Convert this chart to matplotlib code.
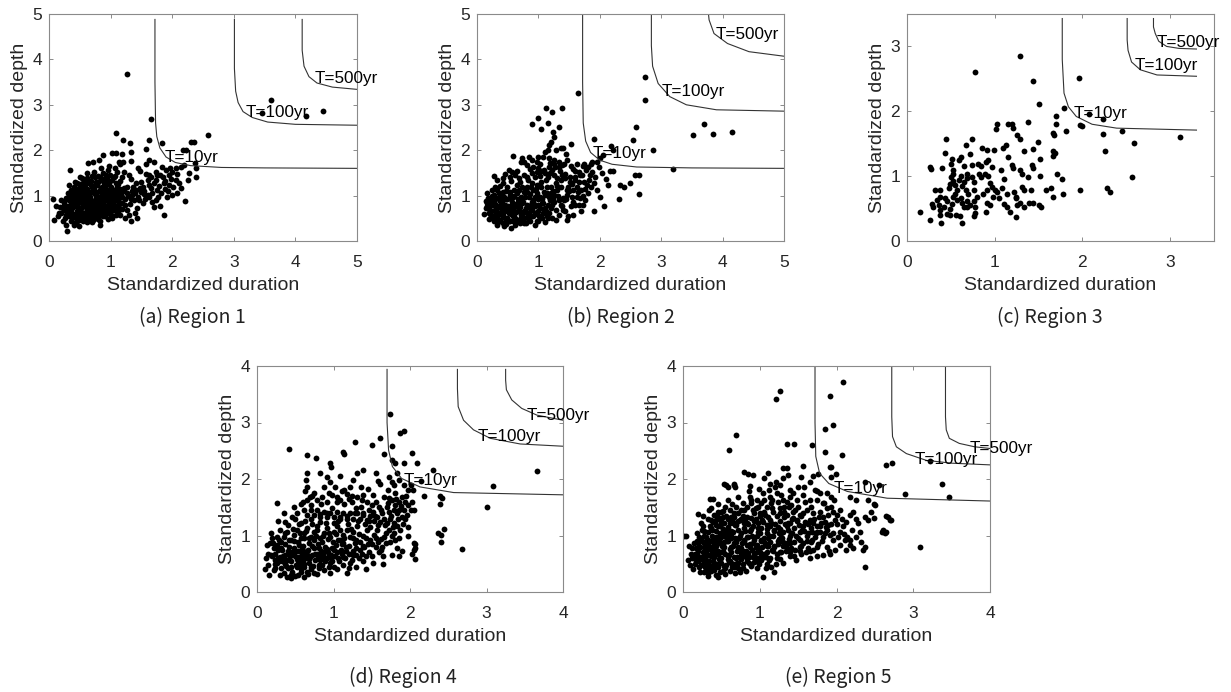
import numpy as np
import matplotlib
matplotlib.use("Agg")
import matplotlib.pyplot as plt

# ---------------- data ----------------
r1_pts = np.array([
    (1.27, 3.68), (1.65, 2.69), (3.61, 3.10), (4.45, 2.86), (4.17, 2.75), (3.46, 2.83),
    (2.58, 2.34), (1.08, 2.37), (1.83, 2.16), (1.62, 2.22), (1.20, 2.23), (1.32, 2.16),
    (2.30, 2.19), (2.35, 2.19), (2.17, 2.00),
    (1.58, 2.02), (1.33, 1.97), (1.03, 1.93), (1.08, 1.93), (0.87, 1.89), (1.18, 1.92),
    (2.22, 2.00), (2.37, 1.71), (1.62, 1.78), (1.70, 1.73), (1.57, 1.70), (0.71, 1.75),
    (0.64, 1.71), (0.81, 1.78), (1.14, 1.75), (1.16, 1.70), (1.20, 1.75), (1.33, 1.76),
    (1.45, 1.60), (1.47, 1.55), (1.84, 1.64), (1.90, 1.56), (1.96, 1.60), (2.06, 1.60),
    (2.14, 1.64), (2.19, 1.67), (1.73, 1.53), (1.81, 1.45), (1.62, 1.45), (2.00, 1.53),
    (2.08, 1.48), (2.38, 1.60), (2.39, 1.42), (2.26, 1.34), (2.11, 1.28), (1.98, 1.36),
    (1.95, 1.23), (1.87, 1.28), (1.89, 1.14), (1.73, 1.34), (1.79, 1.21), (1.76, 1.12),
    (1.60, 1.34), (1.62, 1.23), (1.65, 1.16), (1.52, 1.20), (1.49, 1.09), (1.54, 1.04),
    (1.41, 1.27), (1.42, 1.12), (1.30, 1.45), (1.33, 1.36), (1.22, 1.53), (1.18, 1.42),
    (1.15, 1.33), (1.07, 1.60), (1.11, 1.53), (1.07, 1.43), (0.97, 1.65), (0.96, 1.56),
    (0.92, 1.45), (0.84, 1.60), (0.87, 1.49), (0.80, 1.43), (0.73, 1.53), (0.69, 1.43),
    (0.64, 1.34), (0.61, 1.49), (0.54, 1.38), (0.34, 1.56), (0.46, 1.27), (0.51, 1.21),
    (0.41, 1.20), (0.32, 1.23), (0.35, 1.12), (0.60, 1.27), (0.68, 1.23), (0.76, 1.31),
    (0.84, 1.34), (0.89, 1.27), (0.95, 1.31), (1.03, 1.34), (1.08, 1.27), (1.22, 1.16),
    (1.26, 1.05), (1.35, 1.01), (1.38, 0.90), (1.46, 0.90), (1.52, 0.83), (1.62, 0.96),
    (1.68, 0.87), (1.73, 0.90), (1.70, 0.74), (1.81, 0.76), (1.86, 0.57), (1.92, 0.98),
    (2.00, 1.01), (2.08, 1.05), (2.14, 1.16), (2.21, 0.89), (1.43, 0.72), (1.43, 0.50),
    (1.26, 0.68), (1.30, 0.57), (1.19, 0.83), (1.14, 0.72), (1.06, 0.68), (1.00, 0.57),
    (0.95, 0.61), (0.87, 0.65), (0.81, 0.54), (0.70, 0.57), (0.65, 0.48), (0.54, 0.54),
    (0.49, 0.46), (0.41, 0.57), (0.32, 0.54), (0.24, 0.68), (0.19, 0.61), (0.11, 0.76),
    (0.08, 0.46), (0.30, 0.21), (0.41, 0.35), (0.49, 0.32), (0.22, 0.43), (0.27, 0.35),
    (1.24, 0.50), (1.33, 0.43), (0.07, 0.92), (0.20, 0.90), (0.16, 0.62),
    (0.32, 0.90), (0.38, 0.98), (0.43, 0.87), (0.49, 0.94), (0.54, 0.84), (0.60, 0.90),
    (0.65, 0.98), (0.70, 0.87), (0.76, 0.94), (0.81, 0.84), (0.87, 0.90), (0.92, 0.98),
    (0.97, 0.87), (1.03, 0.94), (1.08, 1.05), (1.14, 0.94),
    (0.38, 1.08), (0.45, 1.15), (0.52, 1.05), (0.58, 1.12), (0.63, 1.02), (0.70, 1.10),
    (0.75, 1.03), (0.82, 1.13), (0.88, 1.05), (0.95, 1.12), (1.02, 1.03), (1.10, 1.10),
    (1.17, 1.02), (0.25, 0.80), (0.33, 0.73), (0.40, 0.78), (0.47, 0.72), (0.55, 0.76),
    (0.62, 0.70), (0.68, 0.78), (0.74, 0.72), (0.80, 0.77), (0.86, 0.71), (0.93, 0.78),
    (1.00, 0.74), (1.06, 0.80), (0.28, 0.58), (0.36, 0.63), (0.44, 0.60), (0.52, 0.64),
    (0.58, 0.57), (0.66, 0.62), (0.73, 0.58), (0.79, 0.64), (0.85, 0.59), (0.91, 0.55),
    (0.98, 0.63), (0.35, 0.45), (0.43, 0.40), (0.55, 0.45), (0.62, 0.42), (0.72, 0.47),
    (0.83, 0.44), (0.96, 0.48), (0.43, 1.30), (0.50, 1.25), (0.57, 1.32), (0.65, 1.28),
    (0.72, 1.22), (0.80, 1.30), (0.86, 1.20), (0.93, 1.24), (1.00, 1.20), (1.12, 1.25),
    (0.29, 0.66), (0.36, 0.84), (0.46, 0.98), (0.57, 0.95), (0.67, 0.83), (0.78, 1.00),
    (0.90, 0.80), (1.04, 0.86), (1.12, 0.63), (0.52, 0.72), (0.62, 0.58), (0.40, 0.52),
    (0.22, 0.72), (0.27, 0.95), (0.31, 1.05), (0.34, 0.68), (0.37, 0.50), (0.39, 0.88),
    (0.42, 1.02), (0.45, 0.66), (0.47, 0.83), (0.50, 1.10), (0.53, 0.93), (0.55, 0.62),
    (0.57, 0.80), (0.59, 1.18), (0.61, 0.95), (0.63, 0.52), (0.64, 0.75), (0.66, 1.05),
    (0.68, 0.90), (0.69, 0.66), (0.71, 1.18), (0.73, 0.82), (0.75, 0.50), (0.77, 1.08),
    (0.78, 0.68), (0.80, 0.92), (0.82, 0.58), (0.84, 1.16), (0.85, 0.80), (0.88, 0.97),
    (0.89, 0.62), (0.91, 1.10), (0.94, 0.70), (0.96, 0.92), (0.98, 1.28), (1.01, 0.66),
    (1.04, 1.12), (1.07, 0.90), (1.09, 0.58), (1.13, 0.82), (1.16, 1.15), (1.19, 0.70),
    (1.23, 0.93), (1.27, 1.20), (1.31, 0.82), (1.35, 1.10), (1.39, 0.62), (1.45, 0.98),
    (1.50, 1.30), (1.56, 0.92), (1.58, 1.48), (1.67, 1.05), (1.71, 1.27), (1.77, 0.98),
    (1.85, 1.40), (1.93, 1.10), (2.02, 1.20), (1.95, 1.45), (2.06, 1.35), (2.27, 1.50),
    (0.33, 1.00), (0.26, 0.50), (0.18, 0.75), (0.14, 0.55), (0.46, 0.52), (0.58, 0.48),
    (0.70, 0.42), (0.82, 0.35), (0.51, 1.40), (0.62, 1.38), (0.75, 1.40), (0.88, 1.36),
    (0.99, 1.45), (0.41, 0.93), (0.35, 0.80), (0.52, 0.86), (0.64, 0.88), (0.76, 0.85),
    (0.86, 1.00), (1.12, 1.00),
    (0.24, 0.86), (0.29, 0.76), (0.31, 0.62), (0.34, 0.95), (0.37, 0.72), (0.39, 0.60),
    (0.41, 1.10), (0.44, 0.78), (0.46, 0.88), (0.48, 0.62), (0.50, 1.00), (0.51, 0.70),
    (0.53, 1.18), (0.56, 0.85), (0.58, 1.02), (0.60, 0.74), (0.62, 1.15), (0.63, 0.82),
    (0.65, 0.68), (0.67, 0.96), (0.69, 1.20), (0.71, 0.78), (0.72, 0.64), (0.74, 1.06),
    (0.76, 0.88), (0.78, 1.24), (0.79, 0.75), (0.81, 0.98), (0.83, 0.66), (0.85, 1.08),
    (0.87, 0.84), (0.89, 0.74), (0.90, 1.18), (0.92, 0.90), (0.94, 0.62), (0.95, 1.02),
    (0.97, 0.78), (0.99, 1.10), (1.02, 0.85), (1.05, 0.98), (1.07, 0.76), (1.10, 1.18),
    (1.12, 0.88), (1.15, 1.06), (1.18, 0.96), (1.21, 1.10), (1.24, 0.80), (1.28, 1.00),
    (1.33, 0.92), (1.37, 1.20), (1.40, 1.05), (1.47, 1.16), (1.55, 1.10), (1.60, 1.02),
    (1.66, 1.40), (1.75, 1.45), (1.82, 1.05), (1.89, 1.33), (0.55, 0.55), (0.68, 0.50),
    (0.80, 0.48), (0.45, 0.44), (0.38, 0.55), (0.60, 0.63), (0.74, 0.62), (0.88, 0.55),
    (1.02, 0.50), (1.15, 0.58), (0.47, 1.05), (0.60, 1.07), (0.73, 1.14), (0.55, 1.28),
    (0.68, 1.33), (0.82, 1.40), (0.94, 1.37), (1.05, 1.40),
])

r2_pts = np.array([
    (1.65, 3.27), (2.74, 3.62), (2.74, 3.10), (3.69, 2.58), (3.51, 2.33), (3.85, 2.36),
    (4.15, 2.41), (3.20, 1.58), (2.87, 2.00), (2.59, 2.50), (2.54, 2.22), (2.64, 1.04),
    (2.32, 0.92), (2.57, 1.46), (2.64, 1.45), (2.49, 1.27), (2.33, 1.23), (2.40, 1.20),
    (2.18, 2.10), (2.22, 2.00), (2.17, 1.55), (2.21, 1.55), (2.13, 1.23), (2.00, 0.98),
    (2.07, 0.76), (1.91, 0.66), (1.91, 2.24), (1.39, 2.94), (1.12, 2.94), (1.22, 2.85),
    (0.99, 2.70), (0.89, 2.58), (1.15, 2.60), (1.33, 2.50), (1.05, 2.46), (1.24, 2.41),
    (1.26, 2.30), (1.53, 2.14), (1.36, 2.05), (1.18, 2.12), (1.16, 2.00), (0.58, 1.87),
    (2.05, 1.89), (2.00, 1.82), (1.95, 1.73), (1.87, 1.75), (1.85, 1.70), (1.75, 1.70),
    (1.73, 1.65), (1.63, 1.70), (1.53, 1.65), (1.57, 1.59), (1.47, 1.78), (1.45, 1.92),
    (1.40, 2.04), (1.28, 2.00), (1.11, 1.97), (1.07, 1.86), (1.21, 2.19), (0.73, 1.82),
    (0.84, 1.86), (0.90, 1.78), (1.00, 1.86), (0.98, 1.75), (1.17, 1.82), (1.19, 1.71),
    (1.25, 1.78), (1.33, 1.75), (1.38, 1.67), (1.33, 1.62), (1.17, 1.64), (1.22, 1.56),
    (1.09, 1.56), (1.00, 1.60), (0.92, 1.62), (0.81, 1.67), (0.76, 1.75), (0.71, 1.75),
    (0.57, 1.53), (0.52, 1.56), (0.43, 1.38), (0.33, 1.34), (0.28, 1.43), (0.54, 1.42),
    (0.62, 1.45), (0.68, 1.38), (0.76, 1.45), (0.81, 1.40), (0.90, 1.49), (0.98, 1.53),
    (1.03, 1.43), (1.11, 1.49), (1.25, 1.45), (1.30, 1.38), (1.38, 1.45), (1.44, 1.38),
    (1.52, 1.42), (1.60, 1.42), (1.66, 1.53), (1.71, 1.45), (1.78, 1.56), (1.84, 1.45),
    (1.87, 1.53), (1.74, 1.31), (1.79, 1.23), (1.66, 1.31), (1.63, 1.20), (1.57, 1.12),
    (1.49, 1.20), (1.85, 1.20), (1.90, 1.27), (1.95, 1.12), (1.69, 1.12), (1.73, 0.99),
    (1.76, 0.90), (1.63, 0.98), (1.57, 0.87), (1.53, 0.76), (1.66, 0.79), (1.69, 0.65),
    (1.57, 0.57), (1.47, 1.01), (1.41, 0.90), (1.36, 0.79), (1.30, 1.12), (1.25, 1.01),
    (1.19, 0.90), (1.14, 1.20), (1.09, 1.09), (1.03, 0.98), (0.98, 1.23), (0.92, 1.12),
    (0.87, 1.04), (0.81, 1.20), (0.76, 1.09), (0.71, 0.98), (0.65, 1.23), (0.60, 1.12),
    (0.54, 1.01), (0.49, 1.20), (0.43, 1.09), (0.38, 0.98), (0.33, 1.12), (0.27, 1.01),
    (0.22, 0.94), (0.16, 0.83), (0.14, 0.72), (0.19, 0.61), (0.24, 0.79), (0.30, 0.68),
    (0.35, 0.57), (0.41, 0.83), (0.46, 0.72), (0.52, 0.61), (0.57, 0.87), (0.62, 0.76),
    (0.68, 0.65), (0.73, 0.83), (0.79, 0.72), (0.84, 0.61), (0.90, 0.87), (0.95, 0.76),
    (1.00, 0.65), (1.06, 0.83), (1.11, 0.72), (1.17, 0.61), (1.22, 0.79), (1.28, 0.68),
    (1.33, 0.57), (1.38, 0.76), (1.44, 0.65), (1.49, 0.54), (0.22, 0.54), (0.27, 0.43),
    (0.33, 0.35), (0.38, 0.46), (0.43, 0.39), (0.49, 0.50), (0.54, 0.43), (0.60, 0.54),
    (0.65, 0.43), (0.71, 0.50), (0.76, 0.40), (0.81, 0.52), (0.87, 0.43), (0.92, 0.54),
    (0.98, 0.45), (1.06, 0.50), (1.14, 0.55), (1.22, 0.50), (0.56, 0.28), (0.30, 0.57),
    (0.25, 0.88), (0.36, 0.78), (0.47, 0.93), (0.58, 0.68), (0.66, 0.92), (0.74, 0.58),
    (0.86, 0.78), (0.95, 0.97), (1.08, 0.62), (1.20, 1.05), (0.40, 0.65), (0.63, 0.82),
    (0.18, 0.95), (0.20, 0.70), (0.23, 0.58), (0.26, 0.80), (0.29, 0.92), (0.31, 0.48),
    (0.33, 0.72), (0.36, 1.05), (0.38, 0.62), (0.40, 0.88), (0.42, 0.52), (0.44, 0.97),
    (0.46, 0.66), (0.48, 1.10), (0.50, 0.78), (0.52, 0.45), (0.55, 0.92), (0.56, 0.70),
    (0.59, 0.56), (0.61, 1.00), (0.64, 0.63), (0.66, 0.86), (0.68, 1.12), (0.70, 0.74),
    (0.72, 0.45), (0.74, 0.95), (0.77, 0.66), (0.79, 1.15), (0.81, 0.80), (0.83, 0.50),
    (0.85, 0.97), (0.88, 0.68), (0.90, 1.28), (0.92, 0.90), (0.94, 0.62), (0.97, 1.05),
    (0.99, 0.80), (1.01, 0.55), (1.04, 1.20), (1.06, 0.92), (1.09, 0.70), (1.12, 1.35),
    (1.14, 1.06), (1.16, 0.80), (1.19, 1.50), (1.21, 1.18), (1.24, 0.92), (1.27, 1.62),
    (1.29, 1.28), (1.32, 1.00), (1.35, 1.55), (1.37, 1.18), (1.40, 0.95), (1.43, 1.48),
    (1.46, 1.12), (1.51, 1.30), (1.55, 0.98), (1.59, 1.35), (1.64, 1.08), (1.68, 1.45),
    (1.72, 0.80), (1.80, 1.05), (1.83, 1.35), (1.92, 1.40), (1.98, 1.62), (2.03, 1.50),
    (2.10, 1.37), (1.81, 1.62), (1.60, 1.55), (1.42, 1.70), (1.02, 1.70), (0.87, 1.58),
    (0.65, 1.55), (0.45, 1.48), (0.37, 1.22), (0.24, 1.13), (0.17, 1.05), (0.14, 0.88),
    (0.12, 0.60), (0.28, 0.50), (0.44, 0.33), (0.62, 0.36), (0.79, 0.40), (0.95, 0.36),
    (1.10, 0.42), (1.29, 0.47), (1.47, 0.46),
    (0.17, 0.76), (0.21, 0.85), (0.23, 0.66), (0.25, 1.00), (0.27, 0.55), (0.30, 0.82),
    (0.32, 0.95), (0.34, 0.62), (0.37, 0.88), (0.39, 0.72), (0.41, 1.00), (0.43, 0.58),
    (0.45, 0.80), (0.47, 0.46), (0.49, 0.92), (0.51, 0.70), (0.53, 1.08), (0.55, 0.60),
    (0.57, 0.80), (0.59, 0.98), (0.61, 0.66), (0.63, 0.48), (0.65, 1.05), (0.67, 0.74),
    (0.69, 0.90), (0.71, 0.58), (0.73, 1.20), (0.75, 0.86), (0.77, 0.50), (0.78, 0.98),
    (0.80, 0.64), (0.82, 1.08), (0.84, 0.76), (0.86, 0.56), (0.88, 1.18), (0.90, 0.68),
    (0.93, 0.82), (0.96, 1.14), (0.98, 0.60), (1.00, 0.92), (1.03, 0.72), (1.05, 1.30),
    (1.08, 0.84), (1.10, 1.02), (1.13, 0.66), (1.15, 1.42), (1.18, 0.98), (1.20, 0.72),
    (1.23, 1.10), (1.26, 0.86), (1.30, 1.22), (1.34, 0.90), (1.37, 1.35), (1.40, 0.68),
    (1.45, 0.92), (1.50, 1.10), (1.55, 1.25), (1.60, 0.80), (1.67, 0.95), (1.76, 1.15),
    (0.20, 0.48), (0.34, 0.42), (0.47, 0.38), (0.58, 0.44), (0.70, 0.40), (0.84, 0.46),
    (1.00, 0.45), (1.16, 0.50), (0.30, 1.20), (0.42, 1.28), (0.55, 1.32), (0.70, 1.30),
    (0.83, 1.34), (0.95, 1.40), (1.05, 1.55), (1.25, 1.70),
])

r3_pts = np.array([
    (1.285, 2.86), (0.77, 2.60), (1.96, 2.52), (1.44, 2.47), (1.50, 2.11), (1.79, 2.05),
    (1.70, 1.92), (1.70, 1.80), (1.97, 1.79), (2.00, 1.78), (1.81, 1.70), (2.24, 1.65),
    (2.45, 1.70), (2.59, 1.51), (2.26, 1.39), (2.56, 0.99), (1.97, 0.78), (2.28, 0.81),
    (2.32, 0.75), (3.11, 1.60), (2.24, 1.88), (2.08, 1.96),
    (1.38, 1.83), (1.03, 1.80), (1.15, 1.80), (1.20, 1.80), (1.21, 1.75), (1.02, 1.72),
    (1.25, 1.64), (1.29, 1.57), (1.67, 1.67), (1.68, 1.63), (0.45, 1.57), (0.74, 1.57),
    (1.49, 1.52), (0.67, 1.48), (1.13, 1.48), (1.10, 1.44), (0.86, 1.44), (0.91, 1.40),
    (0.99, 1.40), (1.44, 1.42), (1.67, 1.39), (1.69, 1.35), (1.66, 1.31), (0.43, 1.36),
    (0.72, 1.34), (1.33, 1.39), (1.15, 1.30), (1.52, 1.26), (0.51, 1.27), (0.61, 1.30),
    (0.59, 1.25), (0.92, 1.25), (0.90, 1.22), (0.81, 1.19), (0.50, 1.19), (0.26, 1.14),
    (0.27, 1.11), (0.40, 1.12), (0.52, 1.10), (0.53, 1.04), (0.65, 1.15), (0.68, 1.04),
    (0.74, 1.17), (0.84, 1.16), (0.97, 1.14), (1.07, 1.09), (1.11, 0.96), (1.20, 1.17),
    (1.21, 1.12), (1.29, 1.09), (1.31, 1.03), (1.43, 1.17), (1.44, 1.13), (1.38, 0.99),
    (1.52, 1.00), (1.71, 1.03), (1.77, 0.95), (0.89, 1.03), (0.92, 1.00), (0.95, 0.89),
    (0.97, 0.84), (0.82, 1.04), (0.84, 0.99), (0.74, 0.99), (0.76, 0.91), (0.68, 0.97),
    (0.65, 0.91), (0.61, 1.00), (0.59, 0.94), (0.50, 0.99), (0.52, 0.93), (0.49, 0.88),
    (0.55, 0.87), (0.48, 0.81), (0.38, 0.79), (0.32, 0.79), (0.63, 0.85), (0.67, 0.79),
    (0.70, 0.73), (0.76, 0.79), (0.80, 0.68), (0.87, 0.73), (0.91, 0.79), (1.00, 0.79),
    (1.03, 0.75), (1.08, 0.81), (1.14, 0.72), (1.22, 0.76), (1.24, 0.68), (1.31, 0.84),
    (1.33, 0.79), (1.41, 0.79), (1.58, 0.79), (1.64, 0.81), (1.67, 0.68), (1.78, 0.72),
    (0.38, 0.68), (0.43, 0.66), (0.46, 0.61), (0.34, 0.63), (0.29, 0.57), (0.53, 0.68),
    (0.57, 0.63), (0.61, 0.66), (0.63, 0.59), (0.65, 0.53), (0.68, 0.61), (0.72, 0.55),
    (0.76, 0.61), (0.78, 0.53), (0.91, 0.58), (0.95, 0.55), (0.98, 0.68), (1.05, 0.66),
    (1.11, 0.57), (1.14, 0.53), (1.24, 0.66), (1.25, 0.55), (1.29, 0.59), (1.33, 0.53),
    (1.39, 0.59), (1.44, 0.59), (1.50, 0.55), (1.53, 0.52), (1.17, 0.44), (1.24, 0.37),
    (0.90, 0.45), (0.49, 0.50), (0.51, 0.57), (0.42, 0.53), (0.38, 0.48), (0.36, 0.56),
    (0.30, 0.53), (0.46, 0.42), (0.49, 0.40), (0.38, 0.40), (0.39, 0.27), (0.15, 0.44),
    (0.26, 0.33), (0.56, 0.40), (0.60, 0.39), (0.63, 0.28), (0.76, 0.39), (0.78, 0.43),
    (0.68, 0.53), (0.55, 0.73), (0.57, 0.79),
])

r4_pts = np.array([
    (1.74, 3.15), (1.92, 2.85), (1.87, 2.82), (1.61, 2.72), (1.50, 2.60), (1.28, 2.66),
    (1.76, 2.58), (2.03, 2.46), (1.13, 2.48), (1.14, 2.45), (0.42, 2.53), (0.66, 2.42),
    (0.77, 2.38), (3.66, 2.14), (3.09, 1.88), (3.01, 1.51), (2.68, 0.76), (2.37, 1.04),
    (2.40, 1.01), (2.44, 1.11), (2.40, 0.88), (2.39, 1.70), (2.42, 1.66), (2.39, 1.55),
    (2.18, 1.70), (2.09, 2.28), (2.30, 2.16), (2.14, 1.96), (2.07, 0.85), (2.05, 0.74),
    (2.07, 0.58), (2.05, 1.45),
    (1.66, 2.45), (1.76, 2.34), (1.81, 2.28), (1.92, 2.28), (0.95, 2.29), (0.97, 2.22),
    (0.65, 2.11), (0.64, 1.98), (0.82, 2.10), (0.92, 2.04), (0.96, 1.95), (1.09, 2.05),
    (1.26, 1.98), (1.31, 2.10), (1.39, 2.16), (1.55, 2.10), (1.58, 1.97), (1.61, 1.92),
    (1.73, 2.04), (1.76, 1.95), (1.79, 1.89), (1.83, 2.10), (1.86, 1.98), (1.92, 1.89),
    (1.98, 1.80), (2.01, 1.89), (2.04, 1.80), (0.26, 1.58), (0.65, 1.86), (0.63, 1.79),
    (0.75, 1.75), (0.69, 1.69), (0.65, 1.62), (0.71, 1.54), (0.85, 1.69), (0.92, 1.60),
    (0.98, 1.72), (1.04, 1.69), (1.05, 1.60), (1.11, 1.78), (1.14, 1.81), (1.18, 1.73),
    (1.20, 1.64), (1.24, 1.60), (1.31, 1.69), (1.37, 1.63), (1.39, 1.72), (1.44, 1.60),
    (1.50, 1.54), (1.56, 1.60), (1.60, 1.51), (1.66, 1.69), (1.72, 1.66), (1.71, 1.57),
    (1.76, 1.63), (1.81, 1.54), (1.85, 1.60), (1.90, 1.69), (1.94, 1.60), (1.98, 1.54),
    (1.92, 1.45), (1.96, 1.36), (1.90, 1.32), (2.01, 1.45), (1.79, 1.45), (1.83, 1.39),
    (1.73, 1.42), (0.52, 1.40), (0.46, 1.32), (0.37, 1.24), (0.61, 1.45), (0.65, 1.36),
    (0.70, 1.45), (0.74, 1.36), (0.78, 1.45), (0.83, 1.33), (0.87, 1.42), (0.92, 1.33),
    (0.96, 1.40), (1.00, 1.33), (1.05, 1.42), (1.09, 1.32), (1.13, 1.39), (1.18, 1.30),
    (1.22, 1.39), (1.26, 1.30), (1.31, 1.39), (1.35, 1.29), (1.39, 1.36), (1.44, 1.27),
    (1.48, 1.35), (1.53, 1.26), (1.57, 1.33), (1.61, 1.24), (1.66, 1.30), (1.70, 1.22),
    (1.74, 1.29), (1.79, 1.22), (1.83, 1.16), (1.87, 1.10), (1.72, 1.10), (1.76, 0.99),
    (1.81, 0.92), (1.66, 0.98), (1.68, 0.86), (1.63, 0.80), (1.57, 1.10), (1.53, 1.01),
    (1.48, 0.92), (1.44, 1.10), (1.39, 0.99), (1.35, 0.89), (1.31, 1.16), (1.26, 1.07),
    (1.22, 0.98), (1.18, 1.10), (1.13, 1.01), (1.09, 0.92), (1.05, 1.16), (1.00, 1.07),
    (0.96, 0.98), (0.92, 1.13), (0.87, 1.04), (0.83, 0.95), (0.78, 1.16), (0.74, 1.07),
    (0.70, 0.98), (0.65, 1.13), (0.61, 1.04), (0.57, 0.95), (0.52, 1.10), (0.48, 1.01),
    (0.44, 0.92), (0.39, 1.07), (0.35, 0.98), (0.31, 0.89), (0.26, 0.83), (0.22, 0.77),
    (0.17, 0.86), (0.13, 0.83), (0.15, 0.68), (0.20, 0.63), (0.24, 0.68), (0.28, 0.60),
    (0.33, 0.74), (0.37, 0.65), (0.41, 0.57), (0.46, 0.71), (0.50, 0.63), (0.54, 0.54),
    (0.59, 0.68), (0.63, 0.60), (0.68, 0.51), (0.72, 0.65), (0.76, 0.57), (0.81, 0.48),
    (0.85, 0.63), (0.89, 0.54), (0.94, 0.63), (0.98, 0.54), (1.02, 0.63), (1.07, 0.54),
    (1.11, 0.68), (1.15, 0.60), (1.20, 0.68), (1.24, 0.57), (1.29, 0.65), (1.33, 0.60),
    (1.37, 0.68), (1.42, 0.63), (1.46, 0.71), (1.50, 0.64), (1.55, 0.80), (1.59, 0.71),
    (1.65, 0.63), (1.83, 0.77), (1.85, 0.63), (2.05, 0.86), (2.06, 0.77), (2.03, 0.67),
    (0.11, 0.40), (0.15, 0.48), (0.22, 0.39), (0.26, 0.51), (0.31, 0.42), (0.35, 0.33),
    (0.39, 0.27), (0.41, 0.42), (0.46, 0.36), (0.52, 0.45), (0.57, 0.36), (0.61, 0.44),
    (0.65, 0.36), (0.70, 0.45), (0.74, 0.34), (0.81, 0.42), (0.87, 0.39), (0.94, 0.45),
    (1.18, 0.34), (1.52, 0.51), (1.65, 0.49), (0.44, 0.24), (0.50, 0.28),
    (0.29, 0.92), (0.42, 0.80), (0.55, 0.83), (0.67, 0.75), (0.80, 0.85), (0.91, 0.76),
    (1.03, 0.84), (1.16, 0.80), (1.28, 0.86), (1.40, 0.80), (0.58, 1.22), (0.82, 1.24),
    (1.06, 1.25), (1.30, 1.48), (1.46, 1.45), (0.24, 0.56), (0.36, 0.50), (0.48, 0.77),
    (0.60, 0.55), (0.72, 0.82), (0.84, 0.72), (0.98, 0.78), (1.12, 0.86), (1.62, 0.94),
    (0.20, 0.95), (0.23, 0.50), (0.27, 0.74), (0.30, 1.10), (0.33, 0.55), (0.36, 0.85),
    (0.40, 1.18), (0.43, 0.63), (0.45, 0.45), (0.48, 0.90), (0.50, 1.30), (0.53, 0.72),
    (0.56, 1.05), (0.58, 0.48), (0.60, 0.82), (0.63, 1.25), (0.66, 0.66), (0.68, 0.95),
    (0.70, 0.40), (0.72, 1.20), (0.75, 0.78), (0.77, 1.00), (0.80, 0.60), (0.82, 1.38),
    (0.85, 0.88), (0.88, 0.70), (0.90, 1.22), (0.93, 0.94), (0.95, 0.52), (0.98, 1.48),
    (1.00, 0.75), (1.03, 1.02), (1.06, 0.60), (1.08, 1.30), (1.11, 0.85), (1.14, 1.55),
    (1.16, 0.72), (1.19, 1.20), (1.22, 0.52), (1.25, 0.95), (1.28, 1.40), (1.30, 0.78),
    (1.33, 1.02), (1.36, 1.50), (1.38, 0.55), (1.41, 1.20), (1.45, 0.85), (1.48, 1.15),
    (1.51, 1.42), (1.55, 0.95), (1.58, 1.18), (1.62, 0.74), (1.64, 1.40), (1.68, 1.05),
    (1.71, 1.80), (1.75, 1.35), (1.78, 1.15), (1.80, 1.75), (1.84, 1.30), (1.88, 1.52),
    (1.91, 1.20), (1.95, 1.70), (1.98, 1.15), (2.02, 1.60), (1.85, 0.95), (1.90, 0.72),
    (1.77, 0.66), (0.57, 1.55), (0.78, 1.62), (0.88, 1.85), (1.02, 1.85), (1.22, 1.85),
    (1.45, 1.82), (1.52, 1.72), (0.35, 1.40), (0.28, 1.25), (0.18, 1.05), (0.12, 0.60),
    (0.16, 0.30), (0.30, 0.30), (0.53, 0.30), (0.62, 0.27), (0.78, 0.32), (0.95, 0.33),
    (1.05, 0.40), (1.30, 0.45), (1.43, 0.40), (1.12, 0.47), (0.38, 0.57), (0.55, 0.62),
    (0.68, 0.58), (0.83, 0.67), (0.97, 0.66), (1.10, 0.75), (1.25, 0.72), (1.38, 0.82),
    (0.18, 0.66), (0.21, 0.86), (0.24, 0.42), (0.26, 0.97), (0.29, 0.55), (0.31, 0.78),
    (0.34, 0.64), (0.36, 1.05), (0.38, 0.46), (0.40, 0.72), (0.42, 0.92), (0.44, 0.55),
    (0.47, 1.12), (0.49, 0.70), (0.51, 0.48), (0.53, 0.88), (0.55, 1.20), (0.57, 0.58),
    (0.59, 0.76), (0.61, 0.95), (0.62, 0.50), (0.64, 1.08), (0.66, 0.72), (0.68, 0.86),
    (0.69, 0.62), (0.71, 1.30), (0.73, 0.46), (0.75, 0.92), (0.76, 0.68), (0.79, 1.10),
    (0.81, 0.78), (0.83, 0.56), (0.86, 1.00), (0.87, 0.62), (0.89, 0.80), (0.91, 1.40),
    (0.93, 0.70), (0.94, 1.05), (0.97, 0.60), (0.99, 0.88), (1.01, 1.22), (1.04, 0.70),
    (1.06, 0.92), (1.09, 1.10), (1.12, 0.62), (1.14, 0.95), (1.17, 1.35), (1.20, 0.82),
    (1.23, 1.12), (1.26, 0.66), (1.29, 0.92), (1.32, 1.25), (1.35, 0.75), (1.39, 1.40),
    (1.42, 0.95), (1.46, 1.25), (1.50, 0.85), (1.54, 1.35), (1.58, 0.88), (1.62, 1.45),
    (1.67, 1.18), (1.70, 1.50), (1.74, 0.88), (1.79, 1.05), (1.82, 1.65), (1.86, 1.45),
    (1.93, 1.30), (1.97, 1.00), (0.48, 1.50), (0.60, 1.60), (0.72, 1.70), (0.84, 1.55),
    (0.94, 1.75), (1.08, 1.62), (1.24, 1.70), (1.36, 1.85), (0.45, 0.30), (0.58, 0.40),
    (0.67, 0.32), (0.85, 0.48), (1.00, 0.45), (1.20, 0.42), (0.30, 0.62), (0.42, 0.68),
    (0.52, 0.58), (0.64, 0.70), (0.78, 0.68), (0.92, 0.60),
])

r5_pts = np.array([
    (2.09, 3.72), (1.27, 3.56), (1.21, 3.42), (1.92, 3.47), (1.95, 2.96), (1.85, 2.88),
    (0.69, 2.78), (0.60, 2.52), (1.35, 2.62), (1.45, 2.62), (1.68, 2.60), (1.85, 2.48),
    (2.07, 2.42), (1.91, 2.21), (1.93, 2.21), (1.30, 2.19), (1.36, 2.19), (1.57, 2.23),
    (2.65, 2.24), (2.72, 2.28), (3.22, 2.32), (3.37, 1.92), (3.47, 1.68), (2.89, 1.73),
    (3.09, 0.79), (2.37, 0.44), (2.55, 1.89), (2.37, 1.95), (2.64, 1.35), (2.70, 1.27),
    (2.49, 1.55), (2.49, 1.31), (2.59, 1.07), (2.63, 1.05), (0.01, 0.99), (0.07, 0.57),
    (0.66, 1.89), (0.68, 1.85), (0.56, 1.90), (0.58, 1.86),
    (0.80, 2.13), (0.85, 2.09), (0.91, 2.07), (1.11, 2.10), (1.37, 2.07), (1.69, 2.05),
    (1.76, 2.09), (0.54, 1.92), (0.66, 1.91), (0.87, 1.88), (1.06, 2.01), (1.14, 1.92),
    (1.21, 1.95), (1.26, 1.89), (1.30, 2.01), (1.39, 1.81), (1.50, 1.86), (1.54, 2.04),
    (1.65, 1.95), (1.72, 1.81), (1.74, 1.78), (1.78, 1.75), (1.93, 2.04), (1.99, 2.09),
    (1.87, 1.75), (1.93, 1.69), (2.17, 1.69), (2.26, 1.63), (2.41, 1.63), (2.50, 1.54),
    (2.67, 1.33), (2.71, 1.27), (2.60, 1.10), (2.64, 1.07), (0.35, 1.64), (0.39, 1.64),
    (0.37, 1.48), (0.50, 1.42), (0.24, 1.23), (0.25, 1.10), (0.33, 1.30), (0.35, 1.16),
    (0.04, 0.99), (0.09, 0.48), (0.17, 0.77), (0.15, 0.68), (0.20, 0.63), (0.21, 0.97),
    (0.20, 0.86), (0.26, 0.71), (0.30, 0.57), (0.24, 0.48), (0.22, 0.36), (0.28, 0.36),
    (0.33, 0.28), (0.46, 0.27), (0.41, 0.39), (1.04, 0.27), (1.15, 0.45), (1.22, 0.60),
    (1.26, 0.71), (1.30, 0.51), (1.39, 0.63), (1.47, 0.57), (1.54, 0.68), (1.65, 0.61),
    (1.74, 0.64), (1.82, 0.65), (1.91, 0.67), (1.98, 0.74), (2.04, 0.83), (2.13, 0.74),
    (2.17, 0.83), (2.11, 0.92), (2.14, 0.97), (2.26, 0.98), (2.30, 1.07), (2.35, 0.74),
    (2.37, 0.80), (2.04, 1.07), (2.08, 1.16), (2.13, 1.24), (2.17, 1.36), (2.22, 1.42),
    (2.37, 1.33), (2.41, 1.27), (2.00, 1.36), (2.04, 1.45), (1.93, 1.51), (1.95, 1.42),
    (1.98, 1.27), (1.82, 1.57), (1.87, 1.48), (1.89, 1.36), (1.78, 1.42), (1.82, 1.33),
    (1.85, 1.24), (1.74, 1.16), (1.78, 1.07), (1.82, 0.98), (1.87, 1.10), (1.91, 1.01),
    (1.95, 0.92), (1.65, 1.63), (1.67, 1.51), (1.69, 1.39), (1.56, 1.72), (1.59, 1.60),
    (1.61, 1.45), (1.48, 1.63), (1.50, 1.51), (1.52, 1.36), (1.39, 1.69), (1.41, 1.54),
    (1.43, 1.42), (1.30, 1.63), (1.32, 1.51), (1.35, 1.36), (1.22, 1.75), (1.24, 1.60),
    (1.26, 1.48), (1.13, 1.69), (1.15, 1.57), (1.17, 1.42), (1.04, 1.75), (1.06, 1.63),
    (1.09, 1.51), (0.96, 1.63), (0.98, 1.51), (1.00, 1.39), (0.87, 1.69), (0.89, 1.57),
    (0.91, 1.45), (0.78, 1.57), (0.80, 1.45), (0.83, 1.33), (0.69, 1.51), (0.72, 1.39),
    (0.74, 1.27), (0.61, 1.45), (0.63, 1.33), (0.65, 1.22), (0.52, 1.33), (0.54, 1.22),
    (0.56, 1.10), (0.43, 1.27), (0.46, 1.16), (0.48, 1.04),
    (0.30, 0.98), (0.41, 0.95), (0.52, 1.00), (0.63, 0.96), (0.74, 1.00), (0.85, 0.97),
    (0.96, 0.99), (1.06, 0.95), (1.17, 1.00), (1.28, 0.97), (1.39, 0.99), (1.50, 0.96),
    (1.61, 1.00), (1.72, 0.97), (0.26, 0.88), (0.37, 0.90), (0.48, 0.87), (0.59, 0.91),
    (0.69, 0.88), (0.80, 0.90), (0.91, 0.86), (1.02, 0.90), (1.13, 0.88), (1.24, 0.91),
    (1.35, 0.87), (1.45, 0.89), (1.56, 0.86), (1.67, 0.88), (0.22, 0.80), (0.33, 0.78),
    (0.43, 0.81), (0.54, 0.79), (0.65, 0.82), (0.76, 0.78), (0.87, 0.80), (0.98, 0.77),
    (1.09, 0.81), (1.19, 0.79), (1.30, 0.82), (1.41, 0.78), (1.52, 0.80), (1.63, 0.77),
    (1.74, 0.79), (0.30, 0.71), (0.41, 0.69), (0.52, 0.72), (0.63, 0.70), (0.74, 0.73),
    (0.85, 0.69), (0.96, 0.71), (1.06, 0.68), (1.17, 0.72), (1.28, 0.70), (1.39, 0.71),
    (0.15, 0.63), (0.26, 0.62), (0.37, 0.64), (0.48, 0.61), (0.59, 0.63), (0.69, 0.60),
    (0.80, 0.64), (0.91, 0.62), (1.02, 0.63), (1.13, 0.61), (0.17, 0.54), (0.28, 0.53),
    (0.39, 0.55), (0.50, 0.52), (0.61, 0.54), (0.72, 0.51), (0.83, 0.55), (0.93, 0.53),
    (0.35, 0.46), (0.46, 0.44), (0.56, 0.47), (0.67, 0.45), (0.78, 0.43), (0.89, 0.46),
    (0.37, 0.37), (0.48, 0.35), (0.61, 0.38), (0.74, 0.36),
    (0.26, 1.16), (0.37, 1.14), (0.48, 1.17), (0.59, 1.15), (0.69, 1.18), (0.80, 1.14),
    (0.91, 1.16), (1.02, 1.13), (1.13, 1.17), (1.24, 1.15), (1.35, 1.16), (1.45, 1.13),
    (1.56, 1.17), (1.67, 1.14), (1.78, 1.16), (1.89, 1.18), (0.33, 1.06), (0.43, 1.08),
    (0.54, 1.05), (0.65, 1.07), (0.76, 1.04), (0.87, 1.08), (0.98, 1.06), (1.09, 1.05),
    (1.19, 1.08), (1.30, 1.06), (1.41, 1.04), (1.52, 1.07), (1.63, 1.05), (1.74, 1.07),
    (1.85, 1.05), (0.39, 1.24), (0.50, 1.26), (0.61, 1.23), (0.72, 1.25), (0.83, 1.22),
    (0.93, 1.26), (1.04, 1.24), (1.15, 1.22), (1.26, 1.25), (1.37, 1.23), (1.48, 1.26),
    (1.59, 1.24), (1.69, 1.22), (0.46, 1.33), (0.56, 1.35), (0.67, 1.32), (0.78, 1.34),
    (0.89, 1.31), (1.00, 1.34), (1.11, 1.32), (1.22, 1.35), (1.32, 1.33), (1.43, 1.31),
    (1.54, 1.34),
    (0.12, 0.78), (0.18, 0.90), (0.23, 0.58), (0.27, 1.00), (0.29, 0.45), (0.32, 0.84),
    (0.35, 0.66), (0.38, 1.10), (0.40, 0.52), (0.42, 0.76), (0.44, 0.94), (0.47, 0.58),
    (0.50, 1.20), (0.51, 0.70), (0.53, 0.88), (0.55, 0.42), (0.57, 1.03), (0.60, 0.66),
    (0.62, 0.80), (0.64, 1.28), (0.66, 0.50), (0.68, 0.95), (0.70, 0.72), (0.72, 1.10),
    (0.75, 0.58), (0.77, 0.87), (0.79, 1.22), (0.81, 0.66), (0.84, 0.98), (0.86, 0.52),
    (0.88, 1.12), (0.90, 0.75), (0.93, 0.92), (0.95, 1.30), (0.97, 0.60), (1.00, 1.05),
    (1.03, 0.80), (1.05, 1.42), (1.08, 0.62), (1.11, 0.95), (1.14, 1.28), (1.16, 0.74),
    (1.19, 1.10), (1.21, 0.50), (1.24, 0.85), (1.27, 1.40), (1.29, 0.95), (1.33, 1.20),
    (1.36, 0.78), (1.38, 1.50), (1.42, 1.05), (1.46, 0.74), (1.49, 1.28), (1.53, 0.92),
    (1.57, 1.40), (1.60, 0.70), (1.63, 1.20), (1.68, 0.92), (1.71, 1.30), (1.76, 0.85),
    (1.80, 1.22), (1.84, 1.58), (1.88, 0.80), (1.93, 1.20), (1.97, 1.62), (2.02, 0.98),
    (2.07, 1.30), (2.20, 1.10), (2.28, 1.22), (2.45, 1.42), (2.32, 0.88), (2.21, 0.78),
    (0.34, 1.45), (0.45, 1.56), (0.58, 1.62), (0.72, 1.68), (0.86, 1.78), (0.99, 1.82),
    (1.12, 1.80), (1.28, 1.72), (1.43, 1.76), (1.58, 1.85), (1.74, 1.62), (0.20, 1.38),
    (0.10, 0.68), (0.13, 0.40), (0.31, 0.40), (0.43, 0.30), (0.55, 0.32), (0.68, 0.33),
    (0.82, 0.38), (0.96, 0.42), (1.10, 0.50), (1.18, 0.36), (0.58, 0.58), (0.71, 0.62),
    (0.45, 0.68), (0.39, 0.82), (0.47, 1.00), (0.62, 1.08), (0.78, 0.73), (0.92, 0.68),
    (1.01, 0.57), (0.66, 1.40), (0.83, 1.50), (0.95, 1.48), (1.07, 1.36),
    (0.14, 0.86), (0.16, 0.50), (0.19, 0.72), (0.21, 0.44), (0.23, 0.93), (0.25, 0.62),
    (0.27, 0.80), (0.28, 1.08), (0.30, 0.48), (0.31, 0.66), (0.33, 0.92), (0.34, 0.55),
    (0.36, 0.75), (0.38, 1.00), (0.39, 0.42), (0.40, 0.62), (0.42, 0.86), (0.43, 1.18),
    (0.45, 0.50), (0.46, 0.72), (0.48, 0.95), (0.49, 0.60), (0.51, 0.82), (0.52, 1.12),
    (0.54, 0.46), (0.55, 0.68), (0.57, 0.90), (0.58, 1.30), (0.60, 0.55), (0.61, 0.76),
    (0.63, 1.00), (0.64, 0.44), (0.66, 0.62), (0.67, 0.86), (0.69, 1.22), (0.70, 0.52),
    (0.72, 0.80), (0.73, 0.96), (0.75, 0.66), (0.76, 1.30), (0.78, 0.50), (0.79, 0.92),
    (0.81, 1.08), (0.82, 0.72), (0.84, 0.60), (0.85, 1.20), (0.87, 0.85), (0.88, 0.48),
    (0.90, 1.00), (0.92, 0.64), (0.93, 1.40), (0.95, 0.80), (0.96, 0.55), (0.98, 1.14),
    (1.00, 0.70), (1.01, 0.92), (1.03, 1.28), (1.05, 0.62), (1.07, 0.86), (1.09, 1.18),
    (1.10, 0.70), (1.12, 0.56), (1.14, 1.00), (1.16, 1.48), (1.18, 0.82), (1.20, 1.20),
    (1.22, 0.68), (1.25, 1.05), (1.27, 0.58), (1.30, 0.88), (1.32, 1.42), (1.34, 0.72),
    (1.37, 1.10), (1.40, 0.86), (1.42, 1.30), (1.45, 0.64), (1.47, 1.00), (1.51, 1.18),
    (1.54, 0.82), (1.58, 1.08), (1.62, 0.90), (1.66, 1.28), (1.70, 0.74), (1.73, 1.05),
    (1.77, 1.32), (1.81, 0.90), (1.86, 1.15), (1.90, 0.72), (1.96, 1.05), (2.01, 1.20),
    (2.10, 1.02), (2.18, 0.92), (2.25, 1.30), (0.26, 1.34), (0.36, 1.28), (0.46, 1.42),
    (0.55, 1.50), (0.64, 1.56), (0.76, 1.45), (0.89, 1.62), (1.02, 1.58), (1.16, 1.62),
    (1.20, 1.85), (1.35, 1.60), (1.46, 1.45), (0.20, 0.55), (0.32, 0.34), (0.42, 0.48),
    (0.52, 0.38), (0.63, 0.52), (0.72, 0.42), (0.86, 0.62), (0.99, 0.50), (1.08, 0.42),
    (0.18, 1.05), (0.12, 0.60), (0.08, 0.82), (0.40, 1.36), (0.52, 1.44), (0.68, 1.18),
    (0.81, 1.26), (0.98, 1.22), (1.10, 1.12), (1.26, 1.12), (1.40, 1.22), (1.55, 1.10),
    (1.68, 1.06), (0.30, 0.88), (0.43, 0.98), (0.56, 0.97), (0.70, 0.94), (0.83, 0.84),
    (0.97, 0.84), (1.11, 0.82), (1.25, 0.94), (1.38, 0.93), (1.52, 0.72), (1.65, 0.72),
])

# return-period curves (x, y)
a_T10 = [(1.72, 4.88), (1.72, 3.5), (1.73, 2.6), (1.75, 2.3), (1.80, 2.05), (1.90, 1.85),
         (2.05, 1.73), (2.3, 1.66), (2.8, 1.62), (3.5, 1.61), (5.0, 1.60)]
a_T100 = [(3.01, 4.88), (3.01, 3.8), (3.03, 3.3), (3.07, 3.05), (3.15, 2.85), (3.3, 2.72),
          (3.55, 2.62), (4.0, 2.57), (5.0, 2.55)]
a_T500 = [(4.11, 4.88), (4.11, 4.2), (4.14, 3.85), (4.22, 3.62), (4.35, 3.48), (4.6, 3.39),
          (5.0, 3.34)]
b_T10 = [(1.72, 5.0), (1.72, 3.5), (1.73, 2.6), (1.77, 2.2), (1.85, 1.95), (2.0, 1.78),
         (2.2, 1.69), (2.6, 1.63), (3.5, 1.61), (5.0, 1.60)]
b_T100 = [(2.84, 5.0), (2.84, 4.3), (2.86, 3.85), (2.95, 3.47), (3.14, 3.18), (3.41, 3.0),
          (3.9, 2.89), (5.0, 2.86)]
b_T500 = [(3.77, 5.0), (3.78, 4.87), (3.86, 4.57), (4.08, 4.35), (4.43, 4.17), (5.0, 4.07)]
c_T10 = [(1.77, 3.43), (1.77, 2.8), (1.79, 2.28), (1.84, 2.07), (1.93, 1.92), (2.11, 1.80),
         (2.39, 1.74), (3.30, 1.71)]
c_T100 = [(2.51, 3.43), (2.51, 3.1), (2.52, 2.94), (2.56, 2.76), (2.66, 2.64), (2.85, 2.56),
          (3.30, 2.54)]
c_T500 = [(2.81, 3.43), (2.81, 3.3), (2.83, 3.20), (2.87, 3.08), (2.96, 3.00), (3.10, 2.97),
          (3.30, 2.96)]
d_T10 = [(1.70, 3.94), (1.70, 3.0), (1.72, 2.51), (1.77, 2.22), (1.89, 2.01), (2.13, 1.86),
         (2.57, 1.76), (4.0, 1.72)]
d_T100 = [(2.62, 3.94), (2.62, 3.6), (2.63, 3.28), (2.70, 3.04), (2.83, 2.87), (3.05, 2.72),
          (3.44, 2.62), (4.0, 2.58)]
d_T500 = [(3.25, 3.94), (3.25, 3.75), (3.26, 3.58), (3.33, 3.40), (3.46, 3.25), (3.66, 3.13),
          (4.0, 3.04)]
e_T10 = [(1.72, 4.0), (1.72, 3.0), (1.73, 2.40), (1.78, 2.10), (1.90, 1.92), (2.14, 1.78),
         (2.66, 1.66), (4.0, 1.61)]
e_T100 = [(2.72, 4.0), (2.72, 3.1), (2.73, 2.75), (2.78, 2.57), (2.91, 2.45), (3.17, 2.33),
          (3.5, 2.28), (4.0, 2.25)]
e_T500 = [(3.42, 4.0), (3.42, 3.1), (3.43, 2.87), (3.47, 2.72), (3.60, 2.63), (3.8, 2.57),
          (4.0, 2.54)]

curve_labels = ["T=10yr", "T=100yr", "T=500yr"]
label_pos = {
    "a": [(1.88, 1.85), (3.20, 2.84), (4.31, 3.58)],
    "b": [(1.88, 1.92), (3.01, 3.29), (3.88, 4.54)],
    "c": [(1.90, 1.97), (2.59, 2.71), (2.85, 3.06)],
    "d": [(1.92, 1.98), (2.89, 2.75), (3.53, 3.12)],
    "e": [(1.96, 1.83), (3.02, 2.35), (3.74, 2.54)],
}
captions = ["(a) Region 1", "(b) Region 2", "(c) Region 3", "(d) Region 4", "(e) Region 5"]
limits = [5, 5, 3.5, 4, 4]
ticks = [[0, 1, 2, 3, 4, 5], [0, 1, 2, 3, 4, 5], [0, 1, 2, 3], [0, 1, 2, 3, 4], [0, 1, 2, 3, 4]]

# ---------------- layout ----------------
W, H = 1231, 692
fig = plt.figure(figsize=(W / 100, H / 100), dpi=100)

def rect(l, t, r, b):
    return [l / W, 1 - b / H, (r - l) / W, (b - t) / H]

rects = [rect(49, 14, 357, 241), rect(477, 14, 784, 241), rect(907, 14, 1214, 241),
         rect(257, 366, 563, 592), rect(683, 366, 990, 592)]
cap_pos = [(192, 317), (621, 317), (1050, 317), (403, 677), (838, 677)]

pts_all = [r1_pts, r2_pts, r3_pts, r4_pts, r5_pts]
curves_all = [[a_T10, a_T100, a_T500], [b_T10, b_T100, b_T500], [c_T10, c_T100, c_T500],
              [d_T10, d_T100, d_T500], [e_T10, e_T100, e_T500]]
keys = ["a", "b", "c", "d", "e"]

tick_font = dict(family="Liberation Sans", size=12.5)
for i in range(5):
    ax = fig.add_axes(rects[i])
    pts = pts_all[i]
    ax.plot(pts[:, 0], pts[:, 1], 'o', color='black', markersize=4.2, markeredgewidth=0)
    for c in curves_all[i]:
        c = np.array(c)
        ax.plot(c[:, 0], c[:, 1], '-', color='#333333', lw=0.8)
    for lab, (lx, ly) in zip(curve_labels, label_pos[keys[i]]):
        ax.text(lx, ly, lab, fontsize=12.3, family="Liberation Sans", color='black',
                va='center', ha='left')
    ax.set_xlim(0, limits[i])
    ax.set_ylim(0, limits[i])
    ax.set_xticks(ticks[i])
    ax.set_yticks(ticks[i])
    ax.set_xticklabels([str(t) for t in ticks[i]], fontdict=tick_font, color='#262626')
    ax.set_yticklabels([str(t) for t in ticks[i]], fontdict=tick_font, color='#262626')
    ax.tick_params(direction='in', top=True, right=True, length=3, width=0.6,
                   color='#777777')
    ax.tick_params(axis='x', pad=10)
    ax.tick_params(axis='y', pad=5)
    for sp in ax.spines.values():
        sp.set_color('#8a8a8a')
        sp.set_linewidth(0.8)
    ax.set_xlabel("Standardized duration", family="Liberation Sans", fontsize=14,
                  color='#262626', labelpad=5)
    ax.set_ylabel("Standardized depth", family="Liberation Sans", fontsize=14,
                  color='#262626', labelpad=3)
    cx, cy = cap_pos[i]
    fig.text(cx / W, 1 - cy / H, captions[i], family=["Noto Sans CJK KR", "DejaVu Sans"],
             fontsize=14, ha='center', va='center', color='#222222')

fig.savefig("out.png", dpi=100)
